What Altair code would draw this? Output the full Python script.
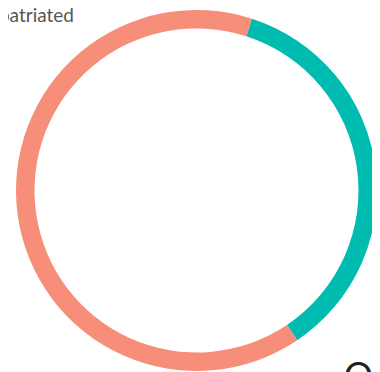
import math
import altair as alt
import pandas as pd

categories = ["Other", "Repatriated"]
shares = [35.6, 64.4]
colors = ["#00bcb0", "#f68e79"]

top_label = ["Repatriated"]
corner_label = ["Ol"]

df = pd.DataFrame({"category": categories, "share": shares, "order": [0, 1]})

start = math.radians(17.9)

ring = alt.Chart(df).mark_arc(outerRadius=180.5, innerRadius=162).encode(
    theta=alt.Theta("share:Q", stack=True, scale=alt.Scale(range=[start, start + 2 * math.pi])),
    order=alt.Order("order:Q"),
    color=alt.Color("category:N", scale=alt.Scale(domain=categories, range=colors), legend=None),
    x=alt.value(188.5),
    y=alt.value(182.5),
)

t1 = alt.Chart(pd.DataFrame({"t": top_label})).mark_text(
    align="right", baseline="alphabetic", font="Lato", fontSize=19, color="#555555"
).encode(text="t:N", x=alt.value(66), y=alt.value(14))

t2 = alt.Chart(pd.DataFrame({"t": corner_label})).mark_text(
    align="left", baseline="top", font="Lato", fontSize=36, color="#222222"
).encode(text="t:N", x=alt.value(336), y=alt.value(352))

chart = alt.layer(ring, t1, t2).properties(
    width=364, height=364, autosize=alt.AutoSizeParams(type="none"), padding=0
).configure_view(stroke=None)

chart.save("out.html", embed_options={"renderer": "svg", "actions": False})
